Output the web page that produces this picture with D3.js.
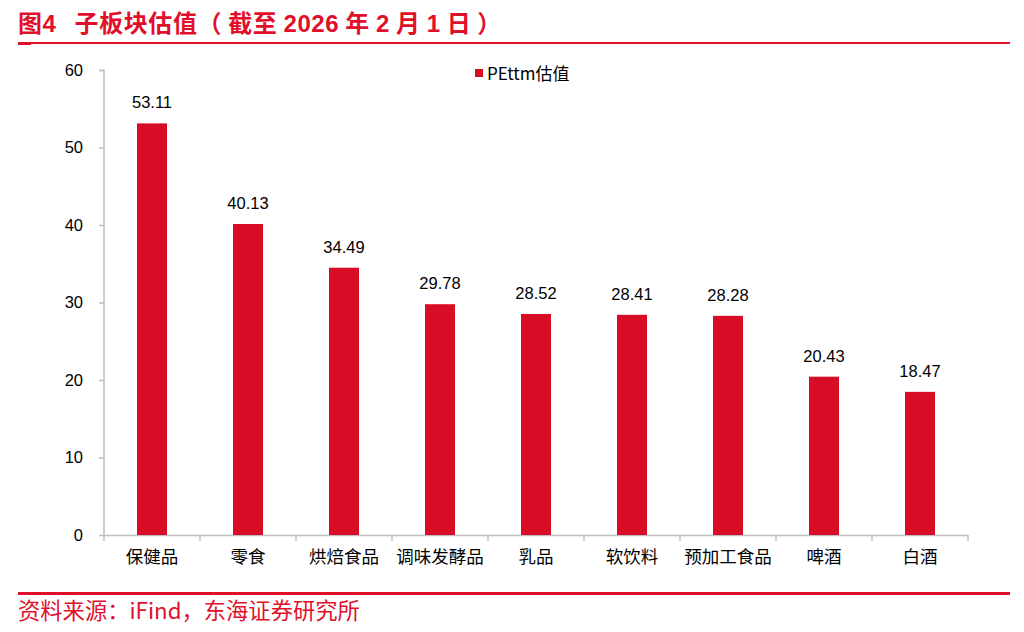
<!DOCTYPE html>
<html><head><meta charset="utf-8">
<script src="https://cdn.jsdelivr.net/npm/d3@7"></script>
<style>body{margin:0;background:#fff;}svg{display:block;}</style>
</head><body>
<svg id="c" width="1024" height="632"></svg>
<script>
const categories = ["保健品","零食","烘焙食品","调味发酵品","乳品","软饮料","预加工食品","啤酒","白酒"];
const values = [53.11,40.13,34.49,29.78,28.52,28.41,28.28,20.43,18.47];
const yTicks = [0,10,20,30,40,50,60];
const seriesName = "PEttm估值";

const red = "#D70C25";
const font = "'Noto Sans CJK SC','Noto Sans',sans-serif";
const latin = "'Liberation Sans',Arial,sans-serif";
const svg = d3.select("#c");

// title
const t = svg.append("text").attr("x",18).attr("y",32).attr("fill","#E0102B")
  .attr("font-family",font).attr("font-weight","bold").attr("font-size",24).attr("letter-spacing",0.6);
t.append("tspan").text("图");
t.append("tspan").attr("font-family",latin).text("4");
t.append("tspan").attr("dx",18).text("子板块估值（ 截至 ");
t.append("tspan").attr("font-family",latin).text("2026");
t.append("tspan").text(" 年 ");
t.append("tspan").attr("font-family",latin).text("2");
t.append("tspan").text(" 月 ");
t.append("tspan").attr("font-family",latin).text("1");
t.append("tspan").text(" 日 ）");
svg.append("rect").attr("x",18).attr("y",42).attr("width",992).attr("height",2).attr("fill","#E0102B");
svg.append("rect").attr("x",18).attr("y",42).attr("width",13).attr("height",3).attr("fill","#E0102B");

const x = d3.scaleBand().domain(categories).range([104,968]).paddingInner(0.6875).paddingOuter(0.34375);
const y = d3.scaleLinear().domain([0,60]).range([535,70]);

// y axis
const ya = svg.append("g").attr("transform","translate(104,0)")
  .call(d3.axisLeft(y).tickValues(yTicks).tickSize(5).tickPadding(16));
ya.select(".domain").attr("stroke","#BFBFBF").attr("stroke-width",1.5).attr("d","M-5,70.5H0V535.5");
ya.selectAll(".tick line").attr("stroke","#BFBFBF").attr("stroke-width",1.5);
ya.selectAll(".tick text").attr("font-family",latin).attr("font-size",16.5).attr("fill","#000");

// x axis
const xBand = d3.scaleBand().domain(categories).range([104,968]);
const xa = svg.append("g").attr("transform","translate(0,535)")
  .call(d3.axisBottom(x).tickSize(0).tickPadding(16));
xa.select(".domain").attr("stroke","#BFBFBF").attr("stroke-width",1.5).attr("d","M104,0.5H968");
xa.selectAll(".tick text").attr("font-family",font).attr("font-size",17.5).attr("fill","#000");
// boundary ticks
const bounds = categories.map(c=>xBand(c)).concat([968]);
svg.append("g").selectAll("line").data(bounds).join("line")
  .attr("x1",d=>d).attr("x2",d=>d).attr("y1",535).attr("y2",541)
  .attr("stroke","#BFBFBF").attr("stroke-width",1.5);

// bars
svg.append("g").selectAll("rect").data(values).join("rect")
  .attr("x",(d,i)=>x(categories[i])).attr("width",x.bandwidth())
  .attr("y",d=>y(d)).attr("height",d=>y(0)-y(d)).attr("fill",red);

svg.append("g").selectAll("text").data(values).join("text")
  .attr("x",(d,i)=>x(categories[i])+x.bandwidth()/2).attr("y",d=>y(d)-15)
  .attr("text-anchor","middle").attr("font-family",latin)
  .attr("font-size",16.5).attr("fill","#000").text(d=>d.toFixed(2));

// legend
svg.append("rect").attr("x",475).attr("y",69).attr("width",8).attr("height",8).attr("fill",red);
svg.append("text").attr("x",487).attr("y",80).attr("font-family",font).attr("font-size",17).attr("fill","#000").text(seriesName);

// bottom
svg.append("rect").attr("x",18).attr("y",592).attr("width",992).attr("height",3).attr("fill","#E0102B");
svg.append("text").attr("x",18).attr("y",619).attr("fill","#E0102B").attr("font-family",font).attr("font-size",22.3)
  .text("资料来源：iFind，东海证券研究所");
</script>
</body></html>
